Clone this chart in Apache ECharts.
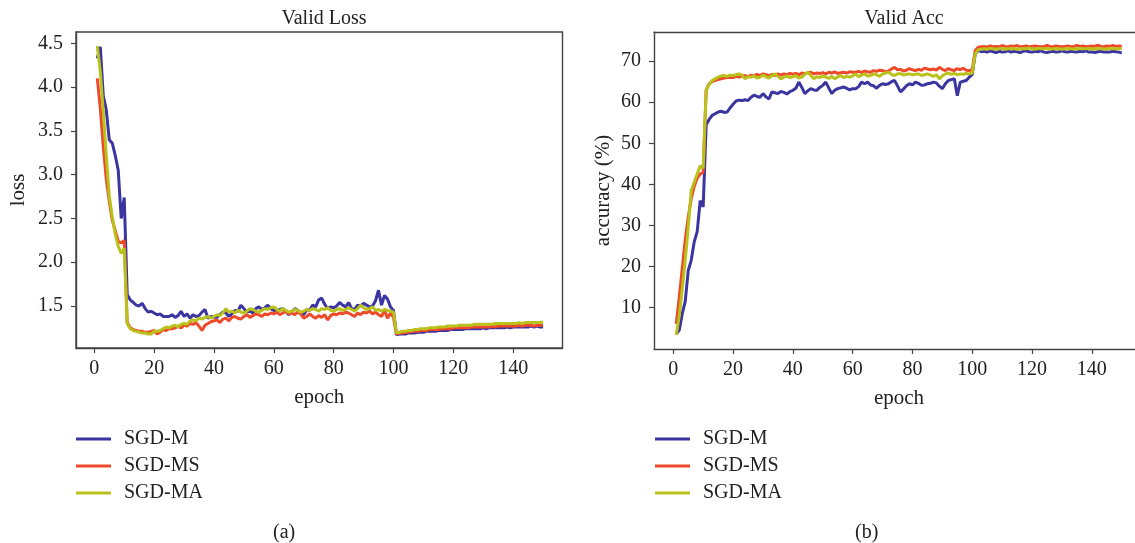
<!DOCTYPE html>
<html>
<head>
<meta charset="utf-8">
<script src="https://cdn.jsdelivr.net/npm/echarts@6/dist/echarts.min.js"></script>
<style>
html,body{margin:0;padding:0;background:#fff;overflow:hidden;}
#c{width:1135px;height:543px;}
</style>
</head>
<body>
<div id="c"></div>
<script>
var seriesNames = ['SGD-M', 'SGD-MS', 'SGD-MA'];
var xTicks = [0, 20, 40, 60, 80, 100, 120, 140];
var lossTicks = [1.5, 2.0, 2.5, 3.0, 3.5, 4.0, 4.5];
var accTicks = [10, 20, 30, 40, 50, 60, 70];

var lossM = [
4.33, 4.46, 3.90, 3.74, 3.40, 3.36, 3.22, 3.05, 2.50, 2.74,
1.63, 1.57, 1.54, 1.51, 1.50, 1.53, 1.47, 1.43, 1.44, 1.42,
1.40, 1.41, 1.38, 1.38, 1.38, 1.40, 1.37, 1.39, 1.44, 1.38,
1.41, 1.36, 1.40, 1.38, 1.39, 1.43, 1.46, 1.36, 1.38, 1.37,
1.37, 1.40, 1.43, 1.42, 1.38, 1.41, 1.45, 1.44, 1.51, 1.47,
1.43, 1.44, 1.42, 1.47, 1.49, 1.46, 1.48, 1.51, 1.47, 1.45,
1.44, 1.46, 1.47, 1.44, 1.40, 1.43, 1.47, 1.45, 1.42, 1.40,
1.46, 1.45, 1.51, 1.49, 1.57, 1.59, 1.52, 1.47, 1.49, 1.48,
1.50, 1.54, 1.51, 1.49, 1.54, 1.47, 1.46, 1.51, 1.50, 1.53,
1.51, 1.49, 1.50, 1.56, 1.68, 1.51, 1.62, 1.58, 1.49, 1.45,
1.17, 1.18, 1.18, 1.18, 1.19, 1.19, 1.19, 1.20, 1.20, 1.20,
1.21, 1.21, 1.21, 1.21, 1.22, 1.22, 1.22, 1.22, 1.23, 1.23,
1.23, 1.23, 1.23, 1.24, 1.24, 1.24, 1.24, 1.24, 1.24, 1.25,
1.24, 1.25, 1.25, 1.25, 1.25, 1.25, 1.25, 1.26, 1.25, 1.26,
1.26, 1.26, 1.26, 1.26, 1.26, 1.27, 1.26, 1.27, 1.26, 1.26
];
var lossMS = [
4.10, 3.76, 3.32, 2.95, 2.70, 2.48, 2.36, 2.24, 2.22, 2.25,
1.31, 1.25, 1.23, 1.22, 1.21, 1.21, 1.20, 1.20, 1.21, 1.22,
1.18, 1.20, 1.23, 1.22, 1.24, 1.24, 1.25, 1.27, 1.25, 1.28,
1.27, 1.30, 1.29, 1.31, 1.27, 1.22, 1.28, 1.30, 1.32, 1.33,
1.34, 1.31, 1.35, 1.36, 1.33, 1.37, 1.38, 1.36, 1.35, 1.38,
1.40, 1.37, 1.39, 1.41, 1.40, 1.38, 1.41, 1.40, 1.42, 1.41,
1.43, 1.40, 1.42, 1.44, 1.41, 1.42, 1.40, 1.43, 1.41, 1.36,
1.38, 1.41, 1.38, 1.36, 1.39, 1.37, 1.40, 1.34, 1.39, 1.41,
1.40, 1.42, 1.41, 1.43, 1.42, 1.40, 1.38, 1.42, 1.40, 1.43,
1.42, 1.44, 1.41, 1.43, 1.40, 1.38, 1.45, 1.36, 1.42, 1.37,
1.18, 1.19, 1.19, 1.20, 1.20, 1.21, 1.21, 1.21, 1.22, 1.22,
1.22, 1.23, 1.23, 1.23, 1.23, 1.24, 1.24, 1.24, 1.24, 1.25,
1.25, 1.25, 1.25, 1.25, 1.25, 1.26, 1.26, 1.26, 1.26, 1.26,
1.26, 1.26, 1.27, 1.26, 1.27, 1.27, 1.27, 1.27, 1.27, 1.27,
1.27, 1.28, 1.27, 1.28, 1.28, 1.28, 1.27, 1.28, 1.28, 1.28
];
var lossMA = [
4.47, 4.18, 3.72, 3.22, 2.76, 2.52, 2.32, 2.18, 2.10, 2.16,
1.30, 1.24, 1.22, 1.21, 1.20, 1.19, 1.19, 1.18, 1.18, 1.21,
1.21, 1.22, 1.24, 1.26, 1.25, 1.27, 1.28, 1.26, 1.29, 1.30,
1.29, 1.33, 1.34, 1.33, 1.36, 1.35, 1.37, 1.38, 1.36, 1.38,
1.40, 1.39, 1.42, 1.47, 1.43, 1.44, 1.42, 1.45, 1.43, 1.42,
1.44, 1.47, 1.46, 1.44, 1.43, 1.45, 1.47, 1.46, 1.48, 1.49,
1.46, 1.44, 1.47, 1.45, 1.43, 1.44, 1.46, 1.45, 1.43, 1.44,
1.46, 1.45, 1.47, 1.46, 1.44, 1.47, 1.46, 1.48, 1.45, 1.44,
1.46, 1.47, 1.45, 1.46, 1.48, 1.46, 1.44, 1.47, 1.51, 1.48,
1.46, 1.47, 1.49, 1.45, 1.46, 1.44, 1.46, 1.45, 1.44, 1.43,
1.19, 1.20, 1.21, 1.21, 1.22, 1.22, 1.23, 1.23, 1.24, 1.24,
1.24, 1.25, 1.25, 1.25, 1.26, 1.26, 1.26, 1.27, 1.27, 1.27,
1.27, 1.28, 1.28, 1.28, 1.28, 1.28, 1.29, 1.29, 1.29, 1.29,
1.29, 1.29, 1.29, 1.30, 1.30, 1.30, 1.30, 1.30, 1.30, 1.30,
1.30, 1.31, 1.30, 1.31, 1.31, 1.31, 1.31, 1.31, 1.31, 1.32
];

var accM = [
3.5, 4.5, 8.5, 11.5, 19.0, 21.5, 26.0, 28.5, 36.0, 34.5,
54.5, 55.8, 56.8, 57.2, 57.6, 57.8, 57.5, 57.6, 58.6, 59.5,
60.3, 60.5, 60.4, 60.6, 60.4, 61.2, 61.7, 61.4, 61.2, 62.1,
61.3, 60.8, 62.5, 62.3, 62.1, 62.6, 62.4, 62.0, 62.6, 62.9,
63.4, 64.9, 63.6, 62.1, 62.8, 63.3, 63.0, 62.9, 63.6, 64.1,
64.9, 63.5, 62.1, 62.9, 63.3, 63.5, 63.7, 63.4, 63.0, 63.3,
63.3, 63.8, 64.9, 64.5, 64.9, 64.2, 64.0, 63.4, 64.1, 64.5,
64.3, 64.5, 65.0, 65.3, 64.0, 62.5, 63.2, 64.0, 64.5, 64.2,
64.9, 64.6, 64.1, 64.2, 64.5, 64.6, 64.9, 64.7, 63.9, 63.3,
64.5, 65.3, 65.5, 65.7, 61.6, 64.9, 65.1, 65.3, 66.1, 66.8,
71.8, 72.6, 72.3, 72.4, 72.2, 72.5, 72.3, 72.1, 72.4, 72.2,
72.3, 72.5, 72.2, 72.4, 72.3, 72.1, 72.4, 72.5, 72.3, 72.2,
72.4, 72.3, 72.5, 72.2, 72.1, 72.3, 72.4, 72.2, 72.3, 72.5,
72.3, 72.2, 72.4, 72.3, 72.2, 72.4, 72.3, 72.5, 72.2, 72.3,
72.1, 72.3, 72.4, 72.2, 72.3, 72.2, 72.4, 72.3, 72.2, 72.0
];
var accMS = [
6.0, 12.5, 19.5, 26.5, 32.0, 36.5, 39.5, 41.5, 42.5, 43.0,
63.0, 64.5, 65.0, 65.3, 65.5, 65.7, 65.9, 66.0, 66.1, 66.0,
66.3, 66.1, 66.4, 66.5, 66.2, 66.6, 66.4, 66.8, 66.5, 66.9,
66.7, 66.4, 66.8, 66.5, 66.9, 66.6, 66.9, 66.7, 67.0, 66.8,
67.0, 66.7, 67.1, 66.9, 67.2, 67.3, 66.9, 67.1, 67.0, 67.2,
66.9, 67.3, 67.1, 67.4, 67.0, 67.2, 67.3, 67.1, 67.4, 67.3,
67.3, 67.5, 67.2, 67.6, 67.4, 67.3, 67.7, 67.5, 67.8, 67.7,
67.4, 67.6, 68.1, 68.5, 67.9, 68.0, 67.6, 67.8, 68.2, 67.9,
67.7, 68.0, 67.8, 68.3, 68.1, 67.9, 68.1, 67.8, 68.5, 68.0,
67.7, 68.2, 67.9, 67.7, 68.2, 67.9, 68.3, 67.8, 67.7, 68.0,
72.6, 73.4, 73.5, 73.6, 73.4, 73.7, 73.5, 73.6, 73.5, 73.8,
73.6, 73.5, 73.7, 73.6, 73.8, 73.5, 73.6, 73.7, 73.5, 73.6,
73.7, 73.6, 73.5, 73.6, 73.8, 73.6, 73.5, 73.7, 73.6, 73.5,
73.6, 73.7, 73.5, 73.6, 73.8, 73.6, 73.7, 73.5, 73.6, 73.7,
73.6, 73.9, 73.6, 73.5, 73.7, 73.6, 73.8, 73.6, 73.7, 73.6
];
var accMA = [
3.3, 8.0, 14.5, 21.5, 29.5, 38.5, 40.5, 42.5, 44.5, 44.0,
63.0, 64.3, 65.3, 65.7, 66.1, 66.4, 66.5, 66.3, 66.6, 66.5,
66.7, 66.9, 66.6, 65.7, 66.2, 66.1, 66.4, 65.9, 66.1, 66.6,
66.2, 65.9, 66.5, 66.9, 66.3, 65.7, 66.1, 66.4, 66.0, 66.2,
66.5, 65.9, 66.1, 66.8, 67.3, 66.5, 65.7, 66.2, 66.0, 66.4,
66.1, 65.8, 66.3, 65.7, 66.2, 66.5, 66.0, 66.3, 66.1, 66.4,
66.9, 66.2, 66.6, 66.9, 66.4, 66.5, 66.9, 66.7, 66.3, 66.9,
67.1, 67.3, 66.8, 66.5, 66.9, 67.0, 66.6, 66.8, 66.9, 66.7,
66.8, 66.9, 66.5, 66.7, 66.9, 66.6, 66.3, 66.7, 65.7, 66.4,
66.9, 67.1, 66.8, 67.0, 66.7, 66.9, 66.8, 67.0, 66.9, 67.1,
71.8, 72.8, 72.9, 73.0, 72.9, 73.1, 73.0, 72.9, 73.0, 73.1,
72.9, 73.0, 73.1, 73.0, 72.9, 73.0, 73.1, 73.0, 73.2, 73.0,
72.9, 73.1, 73.0, 73.0, 73.1, 72.9, 73.0, 73.1, 73.0, 72.9,
73.0, 73.1, 73.0, 72.9, 73.0, 73.1, 73.0, 73.0, 73.1, 72.9,
73.0, 73.1, 73.0, 73.0, 72.9, 73.1, 73.0, 73.1, 73.0, 73.1
];

var colors = ['#3a35a0', '#ee4a2a', '#b9c21b'];
var FONT = 'Liberation Serif';
var AX = '#444';

function pairs(arr) { return arr.map(function (v, i) { return [i + 1, v]; }); }

function xAxisCfg(gi, mn, mx) {
  return {
    gridIndex: gi, type: 'value', min: mn, max: mx,
    name: 'epoch', nameLocation: 'middle', nameGap: 39,
    nameTextStyle: { fontFamily: FONT, fontSize: 21, color: '#222' },
    axisLine: { show: true, onZero: false, lineStyle: { color: AX, width: 1.4 } },
    axisTick: { show: true, length: 5, inside: false, customValues: xTicks, lineStyle: { color: AX, width: 1.2 } },
    axisLabel: { customValues: xTicks, margin: 11, fontFamily: FONT, fontSize: 20, color: '#222' },
    splitLine: { show: false }
  };
}
function topFrameAxis(gi, mn, mx) {
  return {
    gridIndex: gi, type: 'value', min: mn, max: mx, position: 'top',
    axisLine: { show: true, onZero: false, lineStyle: { color: AX, width: 1.4 } },
    axisTick: { show: false }, axisLabel: { show: false }, splitLine: { show: false }
  };
}
function yAxisCfg(gi, mn, mx, ticks, name, gap, fmt) {
  return {
    gridIndex: gi, type: 'value', min: mn, max: mx,
    name: name, nameLocation: 'middle', nameGap: gap, nameRotate: 90,
    nameTextStyle: { fontFamily: FONT, fontSize: 21, color: '#222' },
    axisLine: { show: true, onZero: false, lineStyle: { color: AX, width: 1.4 } },
    axisTick: { show: true, length: 5, inside: false, customValues: ticks, lineStyle: { color: AX, width: 1.2 } },
    axisLabel: { customValues: ticks, margin: 13, fontFamily: FONT, fontSize: 20, color: '#222', formatter: fmt },
    splitLine: { show: false }
  };
}
function legendCfg(left) {
  return {
    orient: 'vertical', left: left, top: 429, itemGap: 7, padding: 0,
    itemWidth: 35, itemHeight: 3, icon: 'rect',
    data: seriesNames,
    textStyle: { fontFamily: FONT, fontSize: 20, color: '#222', lineHeight: 20, padding: [0, 0, 0, 8] }
  };
}

var lossData = [lossM, lossMS, lossMA];
var accData = [accM, accMS, accMA];
var series = [];
for (var k = 0; k < 3; k++) {
  series.push({ name: seriesNames[k], type: 'line', xAxisIndex: 0, yAxisIndex: 0, data: pairs(lossData[k]),
    showSymbol: false, lineStyle: { width: 3, color: colors[k] }, itemStyle: { color: colors[k] }, animation: false });
}
for (var k2 = 0; k2 < 3; k2++) {
  series.push({ name: seriesNames[k2], type: 'line', xAxisIndex: 1, yAxisIndex: 1, data: pairs(accData[k2]),
    showSymbol: false, lineStyle: { width: 3, color: colors[k2] }, itemStyle: { color: colors[k2] }, animation: false });
}

var chart = echarts.init(document.getElementById('c'), null, { renderer: 'canvas' });
chart.setOption({
  animation: false,
  backgroundColor: '#fff',
  color: colors,
  title: [
    { text: 'Valid Loss', left: 319, top: 4, textAlign: 'center', textStyle: { fontFamily: FONT, fontSize: 20, fontWeight: 'normal', color: '#222' } },
    { text: 'Valid Acc', left: 899, top: 4, textAlign: 'center', textStyle: { fontFamily: FONT, fontSize: 20, fontWeight: 'normal', color: '#222' } }
  ],
  grid: [
    { left: 76, top: 32, width: 486.5, height: 316, show: true, borderColor: AX, borderWidth: 1.4, backgroundColor: 'transparent', outerBoundsMode: 'none', containLabel: false },
    { left: 654, top: 32, width: 490, height: 317, show: false, outerBoundsMode: 'none', containLabel: false }
  ],
  xAxis: [xAxisCfg(0, -6.12, 156.5), xAxisCfg(1, -6.45, 157.45), topFrameAxis(1, -6.45, 157.45)],
  yAxis: [
    yAxisCfg(0, 1.02, 4.63, lossTicks, 'loss', 47, function (v) { return v.toFixed(1); }),
    yAxisCfg(1, -0.1, 77.1, accTicks, 'accuracy (%)', 40, function (v) { return String(v); })
  ],
  legend: [legendCfg(76), legendCfg(655)],
  graphic: [
    { type: 'text', left: 273, top: 523, style: { text: '(a)', font: '20px "Liberation Serif"', fill: '#222' } },
    { type: 'text', left: 855, top: 523, style: { text: '(b)', font: '20px "Liberation Serif"', fill: '#222' } }
  ],
  series: series
});
</script>
</body>
</html>
